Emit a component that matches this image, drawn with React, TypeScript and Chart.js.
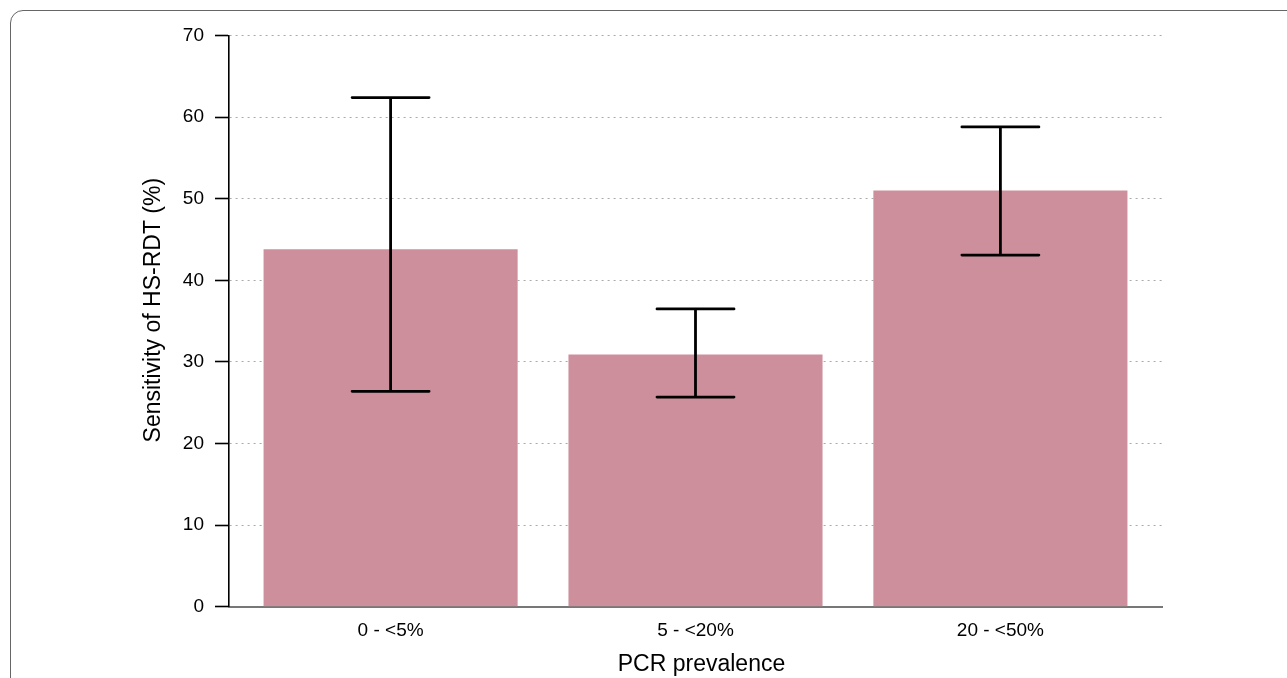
import React, { useEffect, useRef } from "react";
import { Chart, registerables } from "chart.js";

Chart.register(...registerables);

// ---- data ----
const categories = ["0 - <5%", "5 - <20%", "20 - <50%"];
const sensitivity = [43.8, 30.9, 51.0];
const ciLower = [26.4, 25.7, 43.1];
const ciUpper = [62.4, 36.5, 58.8];
const yTicks = [0, 10, 20, 30, 40, 50, 60, 70];

const X_TITLE = "PCR prevalence";
const Y_TITLE = "Sensitivity of HS-RDT (%)";

// barplot-style layout (bar width 1, gap 0.2)
const BAR_WIDTH = 1;
const BAR_SPACE = 0.2;

const FONT = "'Liberation Sans', Arial, Helvetica, sans-serif";

export default function App() {
  const ref = useRef<HTMLCanvasElement | null>(null);

  useEffect(() => {
    const canvas = ref.current;
    if (!canvas) return;

    const mids = categories.map(
      (_, i) => BAR_SPACE + BAR_WIDTH / 2 + i * (BAR_WIDTH + BAR_SPACE)
    );
    const domainMin = BAR_SPACE;
    const domainMax = categories.length * (BAR_WIDTH + BAR_SPACE);
    const pad = (domainMax - domainMin) * 0.04;

    const errorBars = {
      id: "errorBars",
      afterDatasetsDraw(chart: any) {
        const { ctx } = chart;
        const y = chart.scales.y;
        const meta = chart.getDatasetMeta(0);
        ctx.save();
        ctx.strokeStyle = "#000";
        ctx.lineWidth = 2.8;
        ctx.lineCap = "round";
        meta.data.forEach((bar: any, i: number) => {
          const cx = bar.x;
          const yl = y.getPixelForValue(ciLower[i]);
          const yu = y.getPixelForValue(ciUpper[i]);
          const half = 38.5;
          ctx.beginPath();
          ctx.moveTo(cx, yu);
          ctx.lineTo(cx, yl);
          ctx.moveTo(cx - half, yu);
          ctx.lineTo(cx + half, yu);
          ctx.moveTo(cx - half, yl);
          ctx.lineTo(cx + half, yl);
          ctx.stroke();
        });
        ctx.restore();
      },
    };

    const axisTitles = {
      id: "axisTitles",
      afterDraw(chart: any) {
        const { ctx, chartArea } = chart;
        ctx.save();
        ctx.fillStyle = "#000";
        ctx.font = `23px ${FONT}`;
        ctx.textAlign = "center";
        ctx.textBaseline = "middle";
        const cx = (chartArea.left + chartArea.right) / 2 + 6;
        ctx.fillText(X_TITLE, cx, 664.2);
        const cy = (chartArea.top + chartArea.bottom) / 2 - 11;
        ctx.translate(154, cy);
        ctx.rotate(-Math.PI / 2);
        ctx.fillText(Y_TITLE, 0, 0);
        ctx.restore();
      },
    };

    const chart = new Chart(canvas, {
      type: "bar",
      data: {
        datasets: [
          {
            label: "Sensitivity",
            data: sensitivity.map((v, i) => ({ x: mids[i], y: v })),
            backgroundColor: "rgb(204,143,155)",
            borderWidth: 0,
            categoryPercentage: 1,
            barPercentage: BAR_WIDTH / (BAR_WIDTH + BAR_SPACE),
          } as any,
        ],
      },
      options: {
        animation: false,
        responsive: false,
        devicePixelRatio: 1,
        layout: { padding: { top: 35.5, right: 125, left: 0, bottom: 0 } },
        plugins: { legend: { display: false }, tooltip: { enabled: false } },
        scales: {
          x: {
            type: "linear",
            min: domainMin - pad,
            max: domainMax + pad,
            offset: false,
            grid: { display: false, offset: false },
            border: { display: true, color: "#777", width: 2 },
            afterBuildTicks: (scale: any) => {
              scale.ticks = mids.map((v) => ({ value: v }));
            },
            afterFit: (scale: any) => {
              scale.height = 71.2;
            },
            ticks: {
              autoSkip: false,
              maxRotation: 0,
              padding: 5,
              color: "#000",
              font: { family: FONT, size: 19 },
              callback: (_v: any, i: number) => categories[i],
            },
            title: { display: false },
          },
          y: {
            min: 0,
            max: 70,
            afterBuildTicks: (scale: any) => {
              scale.ticks = yTicks.map((v) => ({ value: v }));
            },
            afterFit: (scale: any) => {
              scale.width = 229;
            },
            grid: {
              color: "#aaaaaa",
              lineWidth: 1,
              tickLength: 14,
              tickColor: "#000",
              tickWidth: 1.6,
              tickBorderDash: [],
            } as any,
            border: { display: true, color: "#000", width: 1.6, dash: [2, 4] },
            ticks: {
              padding: 11,
              color: "#000",
              font: { family: FONT, size: 19 },
            },
            title: { display: false },
          },
        },
      } as any,
      plugins: [errorBars, axisTitles],
    });

    return () => chart.destroy();
  }, []);

  return (
    <div
      style={{
        position: "fixed",
        left: 0,
        top: 0,
        width: 1287,
        height: 678,
        overflow: "hidden",
        background: "#fff",
      }}
    >
      <div
        style={{
          position: "absolute",
          left: 10,
          top: 10,
          width: 1400,
          height: 800,
          border: "1px solid #666",
          borderRadius: 13,
          boxSizing: "border-box",
        }}
      />
      <canvas
        ref={ref}
        width={1287}
        height={678}
        style={{ position: "absolute", left: 0, top: 0, display: "block" }}
      />
    </div>
  );
}
